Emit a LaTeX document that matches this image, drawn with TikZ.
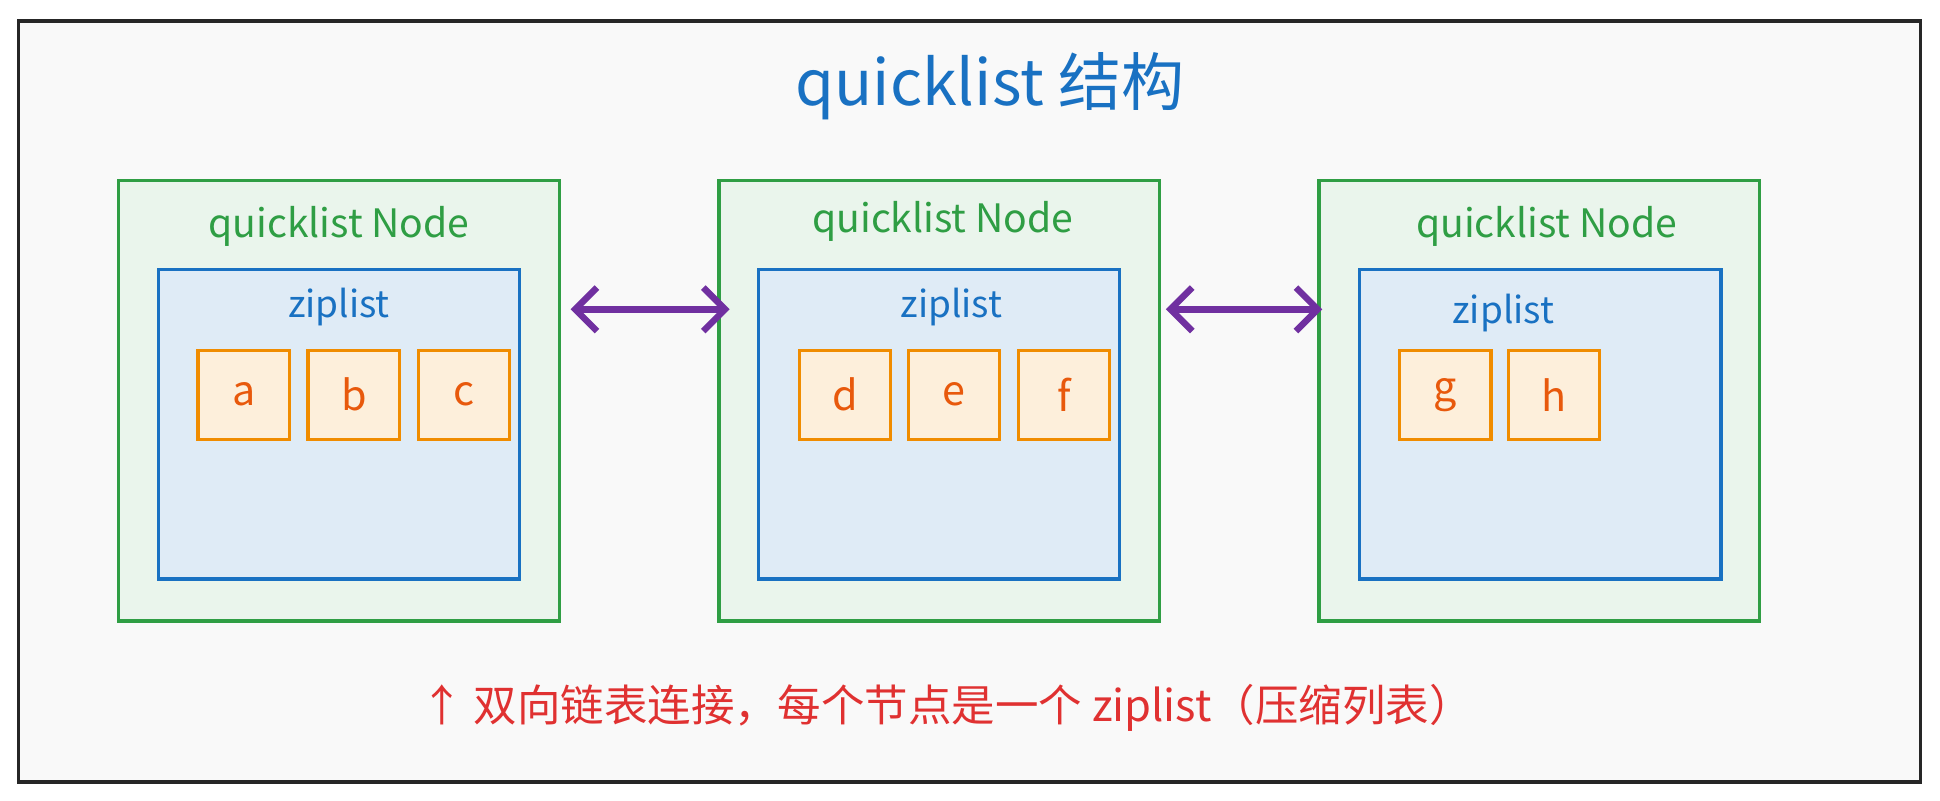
\documentclass[tikz,border=0pt]{standalone}
\usepackage{fontspec}
\setmainfont{Noto Sans CJK SC}
\usetikzlibrary{arrows.meta}
\definecolor{qblue}{HTML}{1971C2}
\definecolor{qgreen}{HTML}{2F9E44}
\definecolor{qorange}{HTML}{F08C00}
\definecolor{qtext}{HTML}{E8590C}
\definecolor{qpurple}{HTML}{7030A0}
\definecolor{qred}{HTML}{E03131}
\tikzset{
  node box/.style={draw=qgreen, fill=qgreen!10, line width=1.5pt, minimum width=7.12cm, minimum height=7.12cm},
  zip box/.style={draw=qblue, fill=qblue!14, line width=1.5pt, minimum width=5.84cm, minimum height=5cm},
  entry/.style={draw=qorange, fill=qorange!14, line width=1.5pt, minimum width=1.48cm, minimum height=1.44cm, text=qtext, font=\fontsize{19}{22}\selectfont},
  link/.style={{Straight Barb[length=10pt,width=20pt]}-{Straight Barb[length=10pt,width=20pt]}, draw=qpurple, line width=3pt},
}
\begin{document}
\begin{tikzpicture}[x=0.02cm,y=-0.02cm]
    \useasboundingbox (0,0) rectangle (1568,647);
    % Frame
    \draw[fill=gray!5, line width=1.5pt, draw=black!85] (15,17) rectangle (1552,632);
    \node[text=qblue, font=\fontsize{29}{34}\selectfont] (title) at (800,70) {quicklist 结构};

    % Nodes
    \node[node box] (n1) at (274,324) {};
    \node[node box] (n2) at (759,324) {};
    \node[node box] (n3) at (1244,324) {};
    \foreach \i/\x/\y in {1/274/183, 2/762/179, 3/1250/183}
        \node[text=qgreen, font=\fontsize{18}{22}\selectfont] (l\i) at (\x,\y) {quicklist Node};

    % Ziplists
    \node[zip box] (z1) at (274,343) {};
    \node[zip box] (z2) at (759,343) {};
    \node[zip box] (z3) at (1245,343) {};
    \foreach \i/\x/\y in {1/274/248, 2/769/248, 3/1215/253}
        \node[text=qblue, font=\fontsize{17}{20}\selectfont] (zl\i) at (\x,\y) {ziplist};

    % Entries
    \foreach \n/\x in {a/197, b/286, c/375, d/683, e/771, f/860, g/1168, h/1256}
        \node[entry] (e\n) at (\x,319) {\n};

    % Links
    \draw[link, shorten <=4.5pt, shorten >=-5.7pt] ([yshift=1.48cm]n1.east) -- ([yshift=1.48cm]n2.west);
    \draw[link, shorten <=2.3pt, shorten >=-2.3pt] ([yshift=1.48cm]n2.east) -- ([yshift=1.48cm]n3.west);

    % Note
    \node[text=qred, font=\fontsize{20}{24}\selectfont] (note) at (765,572) {↑ 双向链表连接，每个节点是一个 ziplist（压缩列表）};
\end{tikzpicture}
\end{document}
